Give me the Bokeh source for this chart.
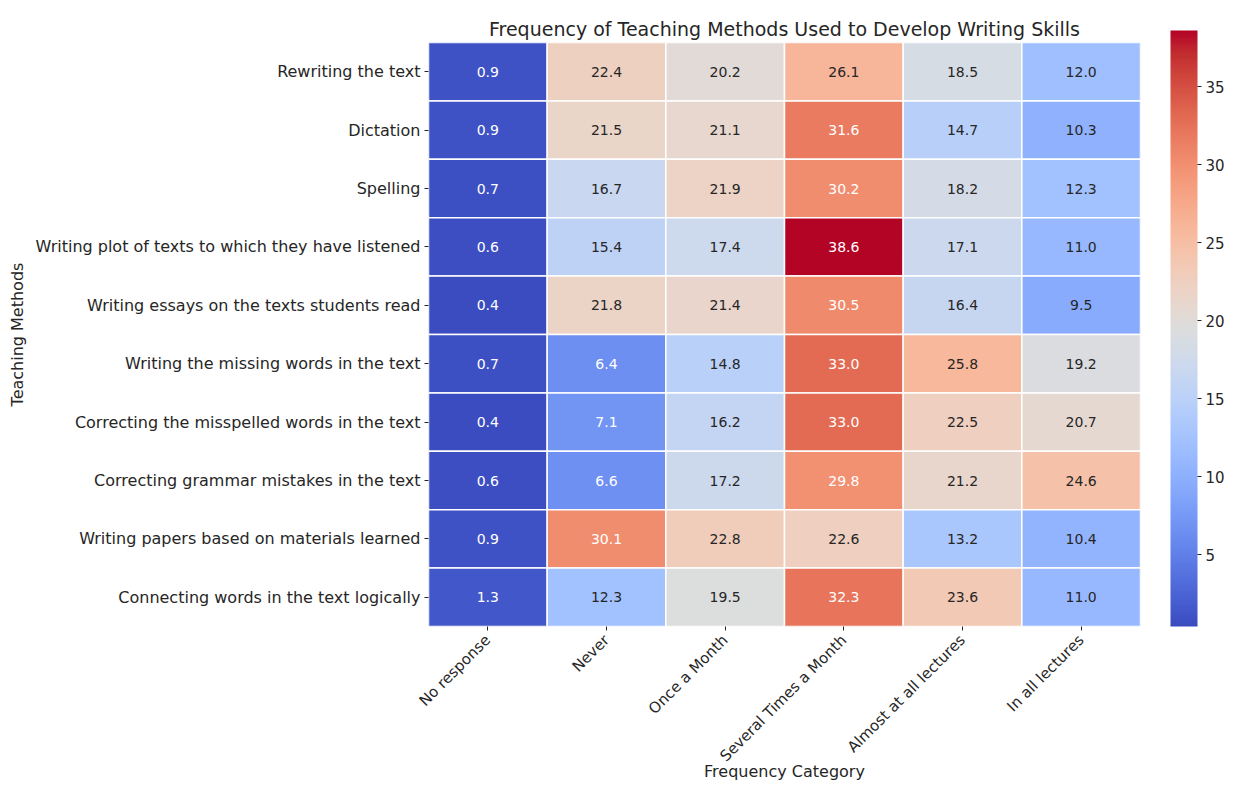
import math
from bokeh.plotting import figure
from bokeh.models import (ColumnDataSource, LinearColorMapper, ColorBar, FixedTicker,
                          FactorRange)
from bokeh.embed import file_html
from bokeh.resources import INLINE

# ---------------- data ----------------
methods = [
    "Rewriting the text",
    "Dictation",
    "Spelling",
    "Writing plot of texts to which they have listened",
    "Writing essays on the texts students read",
    "Writing the missing words in the text",
    "Correcting the misspelled words in the text",
    "Correcting grammar mistakes in the text",
    "Writing papers based on materials learned",
    "Connecting words in the text logically",
]
categories = ["No response", "Never", "Once a Month", "Several Times a Month",
              "Almost at all lectures", "In all lectures"]
no_response = [0.9, 0.9, 0.7, 0.6, 0.4, 0.7, 0.4, 0.6, 0.9, 1.3]
never = [22.4, 21.5, 16.7, 15.4, 21.8, 6.4, 7.1, 6.6, 30.1, 12.3]
once_a_month = [20.2, 21.1, 21.9, 17.4, 21.4, 14.8, 16.2, 17.2, 22.8, 19.5]
several_times = [26.1, 31.6, 30.2, 38.6, 30.5, 33.0, 33.0, 29.8, 22.6, 32.3]
almost_all = [18.5, 14.7, 18.2, 17.1, 16.4, 25.8, 22.5, 21.2, 13.2, 23.6]
in_all = [12.0, 10.3, 12.3, 11.0, 9.5, 19.2, 20.7, 24.6, 10.4, 11.0]
cbar_ticks = [5, 10, 15, 20, 25, 30, 35]

columns = [no_response, never, once_a_month, several_times, almost_all, in_all]

# ---------------- coolwarm colormap ----------------
_cw = [
    (0.0, 0.2298057, 0.298717966, 0.753683153),
    (0.03125, 0.26623388, 0.353094838, 0.801466763),
    (0.0625, 0.30386891, 0.406535296, 0.84495867),
    (0.09375, 0.342804478, 0.458757618, 0.883725899),
    (0.125, 0.38301334, 0.50941904, 0.917387822),
    (0.15625, 0.424369608, 0.558148092, 0.945619588),
    (0.1875, 0.46666708, 0.604562568, 0.968154911),
    (0.21875, 0.509635204, 0.648280772, 0.98478814),
    (0.25, 0.552953156, 0.688929332, 0.995375608),
    (0.28125, 0.596262162, 0.726149107, 0.999836203),
    (0.3125, 0.639176211, 0.759599947, 0.998151185),
    (0.34375, 0.681291281, 0.788964712, 0.990363227),
    (0.375, 0.722193294, 0.813952739, 0.976574709),
    (0.40625, 0.761464949, 0.834302879, 0.956945269),
    (0.4375, 0.798691636, 0.849786142, 0.931688648),
    (0.46875, 0.833466556, 0.860207984, 0.901068838),
    (0.5, 0.865395197, 0.86541021, 0.865395561),
    (0.53125, 0.897787179, 0.848937047, 0.820880546),
    (0.5625, 0.924127593, 0.827384882, 0.774508472),
    (0.59375, 0.944468518, 0.800927443, 0.726736146),
    (0.625, 0.958852946, 0.769767752, 0.678007945),
    (0.65625, 0.96732803, 0.734132809, 0.628751763),
    (0.6875, 0.969954137, 0.694266682, 0.579375448),
    (0.71875, 0.966811177, 0.650421156, 0.530263762),
    (0.75, 0.958003065, 0.602842431, 0.481775914),
    (0.78125, 0.943660866, 0.551750968, 0.434243684),
    (0.8125, 0.923944917, 0.49730856, 0.387970225),
    (0.84375, 0.89904617, 0.439559467, 0.343229596),
    (0.875, 0.869186849, 0.378313092, 0.300267182),
    (0.90625, 0.834620542, 0.312874446, 0.259301199),
    (0.9375, 0.795631745, 0.24128379, 0.220525627),
    (0.96875, 0.752534934, 0.157246067, 0.184115123),
    (1.0, 0.705673158, 0.01555616, 0.150232812),
]


def cw_rgb(t):
    t = min(max(t, 0.0), 1.0)
    for i in range(len(_cw) - 1):
        a, b = _cw[i], _cw[i + 1]
        if a[0] <= t <= b[0]:
            f = (t - a[0]) / (b[0] - a[0])
            return tuple(a[k] + f * (b[k] - a[k]) for k in (1, 2, 3))
    return _cw[-1][1:]


def to_hex(rgb):
    return "#%02x%02x%02x" % tuple(int(round(c * 255)) for c in rgb)


N = 256
palette = [to_hex(cw_rgb(i / (N - 1))) for i in range(N)]

allvals = [v for col in columns for v in col]
vmin, vmax = min(allvals), max(allvals)


def luminance(rgb):
    lin = [c / 12.92 if c <= 0.03928 else ((c + 0.055) / 1.055) ** 2.4 for c in rgb]
    return 0.2126 * lin[0] + 0.7152 * lin[1] + 0.0722 * lin[2]


xs, ys, vals, labels, tcolors = [], [], [], [], []
for ci, cat in enumerate(categories):
    for ri, m in enumerate(methods):
        v = columns[ci][ri]
        xs.append(cat)
        ys.append(m)
        vals.append(v)
        labels.append("%.1f" % v)
        idx = int((v - vmin) / (vmax - vmin) * (N - 1) + 0.5)
        rgb = cw_rgb(idx / (N - 1))
        tcolors.append("#ffffff" if luminance(rgb) < 0.408 else "#262626")

src = ColumnDataSource(dict(x=xs, y=ys, v=vals, label=labels, tc=tcolors))

mapper = LinearColorMapper(palette=palette, low=vmin, high=vmax)

FONT = "DejaVu Sans"
DARK = "#262626"

p = figure(width=1227, height=784, output_backend="svg", toolbar_location=None,
           x_range=FactorRange(factors=categories),
           y_range=FactorRange(factors=list(reversed(methods))),
           min_border_left=428, min_border_right=87, min_border_top=42,
           min_border_bottom=148,
           title="Frequency of Teaching Methods Used to Develop Writing Skills")

p.rect(x="x", y="y", width=1, height=1, source=src,
       fill_color={"field": "v", "transform": mapper},
       line_color="white", line_width=1.5)
p.text(x="x", y="y", text="label", source=src, text_color="tc",
       text_align="center", text_baseline="middle", text_font_size="14px",
       text_font={"value": FONT})

p.title.text_font = FONT
p.title.text_font_size = "19px"
p.title.text_font_style = "normal"
p.title.text_color = DARK
p.title.align = "center"
p.title.offset = 0
p.title.standoff = 5

p.grid.visible = False
p.outline_line_color = None
p.background_fill_color = "white"

for ax in (p.xaxis, p.yaxis):
    ax.axis_line_color = None
    ax.major_tick_line_color = DARK
    ax.major_tick_in = 0
    ax.major_tick_out = 4
    ax.minor_tick_line_color = None
    ax.major_label_text_font = FONT
    ax.major_label_text_font_size = "16px"
    ax.major_label_text_color = DARK
    ax.axis_label_text_font = FONT
    ax.axis_label_text_font_size = "16px"
    ax.axis_label_text_font_style = "normal"
    ax.axis_label_text_color = DARK
    ax.major_label_standoff = 4

p.xaxis.major_label_orientation = math.pi / 4
p.xaxis.major_label_text_font_size = "15px"
p.xaxis.major_label_standoff = 7
p.xaxis.axis_label = "Frequency Category"
p.xaxis.axis_label_standoff = -12
p.yaxis.axis_label = "Teaching Methods"
p.yaxis.axis_label_standoff = 6

cb = ColorBar(color_mapper=mapper, ticker=FixedTicker(ticks=cbar_ticks),
              width=27, height=596, padding=0, margin=0,
              major_tick_in=0, major_tick_out=4, major_tick_line_color=DARK,
              major_label_text_font=FONT, major_label_text_font_size="15px",
              major_label_text_color=DARK, label_standoff=4,
              bar_line_color=None, border_line_color=None,
              background_fill_alpha=0, location=(30, 0))
p.add_layout(cb, "right")

open("out.html", "w").write(file_html(p, INLINE))
